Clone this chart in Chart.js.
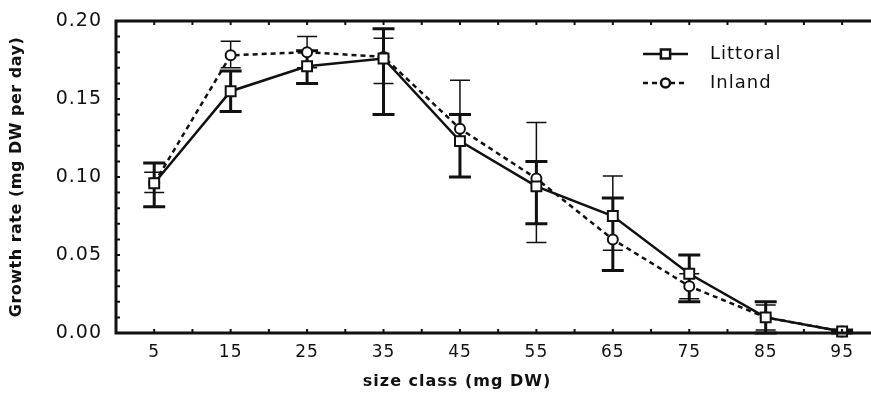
<!DOCTYPE html>
<html>
<head>
<meta charset="utf-8">
<script src="https://cdn.jsdelivr.net/npm/chart.js@4.4.1/dist/chart.umd.min.js"></script>
<style>
  html, body { margin: 0; padding: 0; background: #fff; }
  #wrap { width: 871px; height: 394px; }
</style>
</head>
<body>
<div id="wrap"><canvas id="chart"></canvas></div>
<script>
// size classes (mg DW)
const sizeClasses = [5, 15, 25, 35, 45, 55, 65, 75, 85, 95];
const yTicks = [0, 0.05, 0.10, 0.15, 0.20];

// Littoral
const littoral     = [0.096, 0.155, 0.171, 0.176, 0.123, 0.094, 0.075, 0.038, 0.010, 0.001];
const littoralLow  = [0.081, 0.142, 0.160, 0.140, 0.100, 0.070, 0.040, 0.020, 0.000, 0.000];
const littoralHigh = [0.109, 0.168, 0.181, 0.195, 0.140, 0.110, 0.0865, 0.050, 0.020, 0.002];

// Inland
const inland     = [0.096, 0.178, 0.180, 0.177, 0.131, 0.099, 0.060, 0.030, 0.010, 0.001];
const inlandLow  = [0.090, 0.170, 0.170, 0.160, 0.100, 0.058, 0.053, 0.022, 0.002, 0.000];
const inlandHigh = [0.103, 0.187, 0.190, 0.189, 0.162, 0.135, 0.1006, 0.038, 0.018, 0.002];

const xTitle = 'size class (mg DW)';
const yTitle = 'Growth rate (mg DW per day)';

const INK = '#111';
const FONT = '"DejaVu Sans", Verdana, sans-serif';

const toPoints = vals => sizeClasses.map((x, i) => ({ x, y: vals[i] }));

// the original lettering is set a little wide
const wideText = {
  id: 'wideText',
  beforeDraw(chart) { chart.ctx.letterSpacing = '1px'; }
};

// error bars, drawn under the markers
const errorBars = {
  id: 'errorBars',
  beforeDatasetsDraw(chart) {
    const { ctx, scales: { x, y } } = chart;
    chart.data.datasets.forEach(ds => {
      ctx.save();
      ctx.strokeStyle = INK;
      ctx.lineWidth = ds.errWidth;
      ds.data.forEach((p, i) => {
        const px = x.getPixelForValue(p.x);
        const lo = y.getPixelForValue(ds.errLow[i]);
        const hi = y.getPixelForValue(ds.errHigh[i]);
        const w = ds.capWidth / 2;
        ctx.beginPath();
        ctx.moveTo(px, lo); ctx.lineTo(px, hi);
        ctx.moveTo(px - w, lo); ctx.lineTo(px + w, lo);
        ctx.moveTo(px - w, hi); ctx.lineTo(px + w, hi);
        ctx.stroke();
      });
      ctx.restore();
    });
  }
};

// box frame (left, bottom, top) with inward ticks, plus axis titles
const frame = {
  id: 'frame',
  afterDraw(chart) {
    const { ctx, chartArea: a, scales: { x, y } } = chart;
    ctx.save();
    ctx.strokeStyle = INK;
    ctx.lineWidth = 3;
    ctx.beginPath();
    ctx.moveTo(chart.width, a.top); ctx.lineTo(a.left, a.top);
    ctx.lineTo(a.left, a.bottom); ctx.lineTo(chart.width, a.bottom);
    ctx.stroke();
    ctx.lineWidth = 2;
    ctx.beginPath();
    for (let v = 5; x.getPixelForValue(v) < chart.width; v += 5) {
      const px = x.getPixelForValue(v);
      ctx.moveTo(px, a.bottom); ctx.lineTo(px, a.bottom - 4);
      ctx.moveTo(px, a.top); ctx.lineTo(px, a.top + 4);
    }
    for (let k = 1; k < 20; k++) {
      const py = y.getPixelForValue(k / 100);
      ctx.moveTo(a.left, py); ctx.lineTo(a.left + 4, py);
    }
    ctx.stroke();

    ctx.fillStyle = INK;
    ctx.textAlign = 'center';
    ctx.textBaseline = 'middle';
    ctx.font = 'bold 16px ' + FONT;
    ctx.letterSpacing = '1px';
    ctx.fillText(xTitle, 457, 382);
    ctx.translate(17, (a.top + a.bottom) / 2);
    ctx.rotate(-Math.PI / 2);
    ctx.letterSpacing = '0.5px';
    ctx.fillText(yTitle, 0, 0);
    ctx.restore();
  }
};

// legend: line sample with marker, then label
const sampleLegend = {
  id: 'sampleLegend',
  afterDraw(chart) {
    const { ctx } = chart;
    const x0 = 643, x1 = 688, rows = [54, 83];
    chart.data.datasets.forEach((ds, i) => {
      const yy = rows[i];
      ctx.save();
      ctx.strokeStyle = INK;
      ctx.lineWidth = ds.borderWidth;
      ctx.setLineDash(ds.borderDash || []);
      ctx.beginPath(); ctx.moveTo(x0, yy); ctx.lineTo(x1, yy); ctx.stroke();
      ctx.setLineDash([]);
      ctx.fillStyle = '#fff';
      Chart.helpers.drawPoint(ctx, {
        pointStyle: ds.pointStyle, radius: ds.pointRadius - 0.5, borderWidth: ds.pointBorderWidth
      }, (x0 + x1) / 2, yy);
      ctx.fillStyle = INK;
      ctx.font = '18px ' + FONT;
      ctx.letterSpacing = '1px';
      ctx.textBaseline = 'middle';
      ctx.fillText(ds.label, 710, yy);
      ctx.restore();
    });
  }
};

Chart.defaults.font.family = FONT;
Chart.defaults.color = INK;

new Chart(document.getElementById('chart'), {
  type: 'line',
  data: {
    datasets: [
      {
        label: 'Littoral',
        data: toPoints(littoral),
        errLow: littoralLow, errHigh: littoralHigh, errWidth: 3, capWidth: 22,
        borderColor: INK, borderWidth: 2.5,
        pointStyle: 'rect', pointRadius: 7, pointBorderWidth: 2,
        pointBackgroundColor: '#fff', pointBorderColor: INK,
        tension: 0, clip: false
      },
      {
        label: 'Inland',
        data: toPoints(inland),
        errLow: inlandLow, errHigh: inlandHigh, errWidth: 1.5, capWidth: 20,
        borderColor: INK, borderWidth: 2.5, borderDash: [5, 4],
        pointStyle: 'circle', pointRadius: 5, pointBorderWidth: 2,
        pointBackgroundColor: '#fff', pointBorderColor: INK,
        tension: 0, clip: false
      }
    ]
  },
  options: {
    responsive: true,
    maintainAspectRatio: false,
    animation: false,
    layout: { padding: { top: 21, right: 0, left: 0, bottom: 0 } },
    plugins: { legend: { display: false }, tooltip: { enabled: false } },
    scales: {
      x: {
        type: 'linear', min: 0, max: 97.6,
        afterBuildTicks: s => { s.ticks = sizeClasses.map(v => ({ value: v })); },
        afterFit: s => { s.height = 61; s.paddingLeft = 0; s.paddingRight = 0; },
        grid: { display: false, drawTicks: false },
        border: { display: false },
        ticks: { font: { size: 17 }, padding: 9, maxRotation: 0, callback: v => v }
      },
      y: {
        min: 0, max: 0.2,
        afterBuildTicks: s => { s.ticks = yTicks.map(v => ({ value: v })); },
        afterFit: s => { s.width = 116; s.paddingTop = 0; s.paddingBottom = 0; },
        grid: { display: false, drawTicks: false },
        border: { display: false },
        ticks: { font: { size: 19 }, padding: 14, callback: v => v.toFixed(2) }
      }
    }
  },
  plugins: [wideText, errorBars, frame, sampleLegend]
});
</script>
</body>
</html>
